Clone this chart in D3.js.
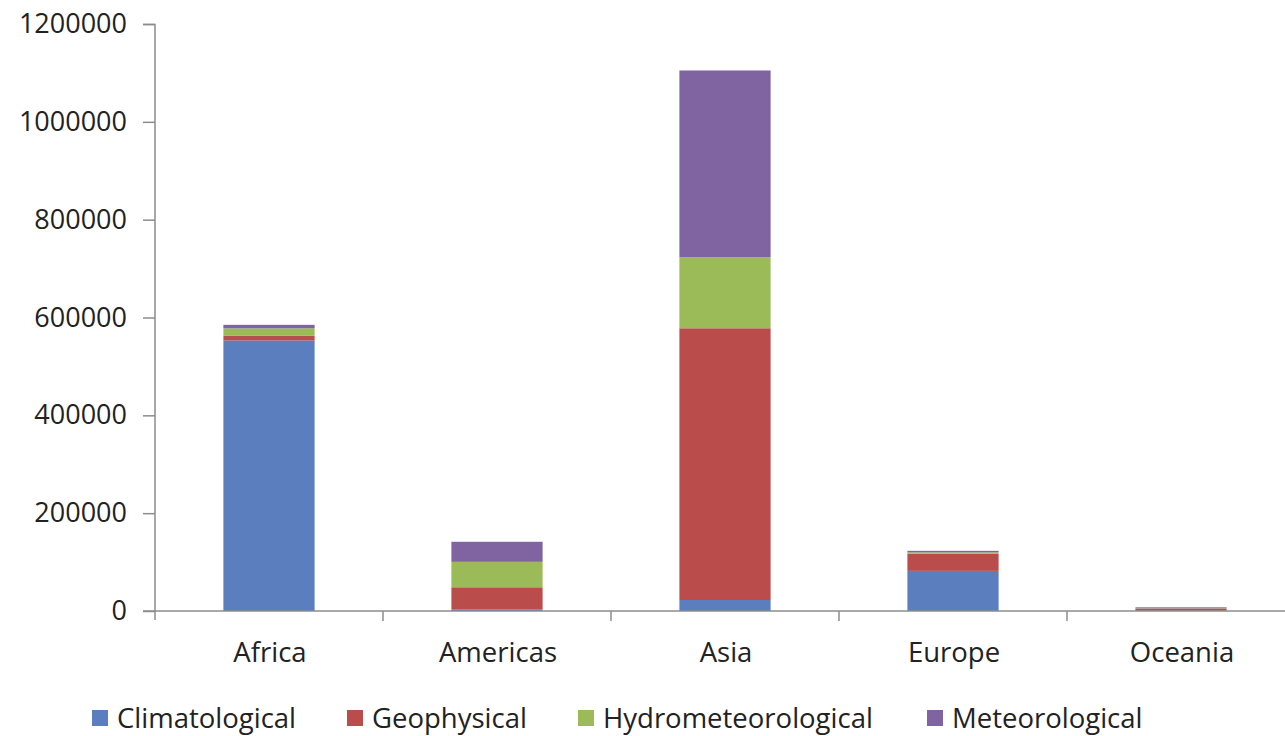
<!DOCTYPE html>
<html>
<head>
<meta charset="utf-8">
<script src="https://cdn.jsdelivr.net/npm/d3@7"></script>
<style>
  html, body { margin: 0; padding: 0; background: #fff; }
  svg { display: block; }
  text { font-family: "Open Sans", "Noto Sans", sans-serif; fill: #222; }
</style>
</head>
<body>
<svg id="chart" width="1285" height="736"></svg>
<script>
// Regions on the x axis
const regions = ["Africa", "Americas", "Asia", "Europe", "Oceania"];
// Disaster types (stack order, bottom to top)
const types = ["Climatological", "Geophysical", "Hydrometeorological", "Meteorological"];
// Values per region, one array per type
const climatological      = [553000,   3500,  22500, 82000,  500];
const geophysical         = [  9500,  45000, 555500, 35000, 4500];
const hydrometeorological = [ 15500,  52000, 145000,  3000,  500];
const meteorological      = [  7000,  41000, 382000,  3000, 2000];
// Y axis ticks
const yTicks = [0, 200000, 400000, 600000, 800000, 1000000, 1200000];

const colors = ["#5B7FBE", "#BA4D4C", "#9BBB59", "#8064A2"];

const rows = regions.map((r, i) => ({
  region: r,
  Climatological: climatological[i],
  Geophysical: geophysical[i],
  Hydrometeorological: hydrometeorological[i],
  Meteorological: meteorological[i]
}));

const svg = d3.select("#chart");
const x0 = 155, bandW = 228;

const x = d3.scaleBand()
  .domain(regions)
  .range([x0, x0 + bandW * regions.length])
  .paddingInner(0.6)
  .paddingOuter(0.3);

const y = d3.scaleLinear().domain([0, 1200000]).range([611, 24]);
const color = d3.scaleOrdinal().domain(types).range(colors);

const stacked = d3.stack().keys(types)(rows);

// Bars
svg.append("g")
  .selectAll("g")
  .data(stacked)
  .join("g")
  .attr("fill", d => color(d.key))
  .selectAll("rect")
  .data(d => d)
  .join("rect")
  .attr("x", d => x(d.data.region))
  .attr("width", x.bandwidth())
  .attr("y", d => y(d[1]))
  .attr("height", d => y(d[0]) - y(d[1]));

// Y axis
const yAxis = svg.append("g")
  .attr("transform", `translate(${x0},0)`)
  .call(d3.axisLeft(y).tickValues(yTicks).tickSize(12).tickPadding(16).tickFormat(d3.format("d")));
yAxis.select(".domain").attr("stroke", "#8c8c8c").attr("stroke-width", 1.5)
  .attr("d", `M-12,24.5H0V620`);
yAxis.selectAll(".tick line").attr("stroke", "#8c8c8c").attr("stroke-width", 1.5);
yAxis.selectAll(".tick text").style("font-size", "27px").attr("fill", "#222");

// X axis baseline and category separators
const xAxisG = svg.append("g");
xAxisG.append("line")
  .attr("x1", x0 - 12).attr("x2", 1285)
  .attr("y1", y(0)).attr("y2", y(0))
  .attr("stroke", "#8c8c8c").attr("stroke-width", 1.5);
xAxisG.selectAll("line.sep")
  .data(regions.slice(1))
  .join("line")
  .attr("class", "sep")
  .attr("x1", d => x(d) - x.step() * x.paddingInner() / 2)
  .attr("x2", d => x(d) - x.step() * x.paddingInner() / 2)
  .attr("y1", y(0)).attr("y2", y(0) + 10)
  .attr("stroke", "#8c8c8c").attr("stroke-width", 1.5);
xAxisG.selectAll("text")
  .data(regions)
  .join("text")
  .attr("x", d => x(d) + x.bandwidth() / 2 + 1)
  .attr("y", 662)
  .attr("text-anchor", "middle")
  .style("font-size", "27.5px")
  .text(d => d);

// Legend
const legendX = [92, 347, 578, 927];
const legend = svg.append("g");
const items = legend.selectAll("g")
  .data(types)
  .join("g")
  .attr("transform", (d, i) => `translate(${legendX[i]},710)`);
items.append("rect")
  .attr("width", 16).attr("height", 16)
  .attr("fill", d => color(d));
items.append("text")
  .attr("x", 25).attr("y", 18)
  .style("font-size", "27.5px")
  .text(d => d);
</script>
</body>
</html>
